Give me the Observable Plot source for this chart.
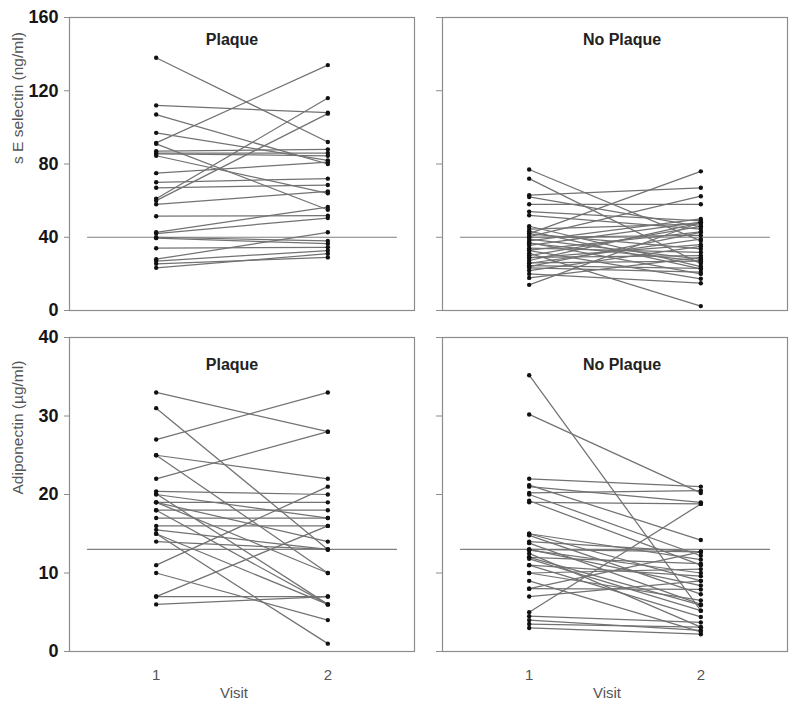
<!DOCTYPE html>
<html><head><meta charset="utf-8">
<script src="https://cdn.jsdelivr.net/npm/d3@7"></script>
<script src="https://cdn.jsdelivr.net/npm/@observablehq/plot@0.6"></script>
<style>
html,body{margin:0;padding:0;background:#fff;}
#wrap{position:relative;width:800px;height:712px;overflow:hidden;background:#fff;}
#wrap > svg{position:absolute;}
</style></head><body><div id="wrap"></div>
<script>
// ---- data ----
const visits = [1, 2];
const visitLabels = ["1", "2"];
const groups = ["Plaque", "No Plaque"];
const xTitle = "Visit";
const selectinTitle = "s E selectin (ng/ml)";
const adipoTitle = "Adiponectin (\u00b5g/ml)";
const selectinTicks = [0, 40, 80, 120, 160];
const adipoTicks = [0, 10, 20, 30, 40];
const selectinRef = 40;
const adipoRef = 13;
const refSpan = [0.6, 2.4];

const selectinPlaqueV1 = [138, 112, 107, 97, 91.5, 91, 87, 86, 85.5, 84.5, 75, 70, 67, 61, 60, 58, 51.5, 42.7, 42, 40, 39.5, 34, 28, 27, 23.3, 25.5];
const selectinPlaqueV2 = [92, 108, 80, 82, 134, 55, 88, 86, 84.5, 64, 81, 72, 68.5, 116, 107.5, 65, 51.8, 56.5, 50.5, 38, 36.5, 34.5, 42.7, 32.7, 31, 29];

const selectinNoV1 = [77, 72, 63, 62, 58, 54, 52, 46, 44.5, 43.3, 42, 41.8, 40.4, 40, 39, 38, 37, 36.7, 35.5, 34, 33, 32.7, 31.3, 30, 29, 28.7, 27.3, 26, 25.8, 24.5, 24, 23.3, 21.8, 20, 17.8, 14];
const selectinNoV2 = [38, 25.5, 67, 45.8, 58, 49, 44.5, 24, 47.3, 22.7, 76, 33.6, 62.4, 41, 28, 50, 20, 27, 48.2, 31.8, 43, 17.3, 2.4, 46, 30, 36, 48, 26.9, 39, 23, 42.7, 21, 35, 14.9, 29, 48.2];

const adipoPlaqueV1 = [33, 31, 27, 25, 25, 22, 20.4, 20.1, 20, 19, 19, 19, 18, 18, 17, 16, 15.5, 15, 14, 11, 10, 7, 7, 6, 15];
const adipoPlaqueV2 = [28, 13, 33, 22, 10, 28, 20, 6, 17, 14, 10, 19, 18, 6, 17, 16, 13, 6, 13, 21, 4, 16, 7, 7, 1];

const adipoNoV1 = [35.2, 30.2, 22, 21.2, 21, 20.2, 20, 19, 19.2, 15, 15, 14.8, 14, 13.8, 13, 13, 12.5, 12, 12, 11, 11, 10, 10, 9, 8, 8, 7, 5, 4.5, 4, 3.5, 3, 12.9, 11.8];
const adipoNoV2 = [5.2, 20.2, 21, 14.2, 19, 20.5, 12.2, 18.8, 11, 11.7, 9, 7.3, 12.7, 6, 12.7, 8.4, 3.1, 11.2, 5.9, 9.6, 4.4, 10.5, 6.5, 2.5, 12.7, 7.9, 9, 18.8, 3.7, 2.7, 3.1, 2.2, 10, 5.2];

// ---- drawing ----
const wrap = document.getElementById("wrap");
const sans = "'Liberation Sans', Arial, Helvetica, sans-serif";
const narrow = "'Liberation Sans Narrow', 'Arial Narrow', 'Liberation Sans', sans-serif";

function panel(o) {
  const links = o.v1.map((a, i) => ({a, b: o.v2[i]}));
  const pts = o.v1.map(v => ({visit: visits[0], value: v}))
    .concat(o.v2.map(v => ({visit: visits[1], value: v})));
  const ref = refSpan.map(x => ({x, y: o.ref}));
  const marks = [
    Plot.frame({stroke: "#8c8c8c", strokeWidth: 1.2}),
    Plot.line(ref, {x: "x", y: "y", stroke: "#808080", strokeWidth: 1.2}),
    Plot.link(links, {x1: d => visits[0], y1: "a", x2: d => visits[1], y2: "b", stroke: "#727272", strokeWidth: 1.25}),
    Plot.dot(pts, {x: "visit", y: "value", r: 2.2, fill: "#111", stroke: "none"}),
    Plot.text([o.title], {frameAnchor: "top", dx: o.titleDx, dy: o.titleDy, fontSize: 16, fontWeight: "bold", fill: "#222", fontFamily: sans}),
    o.yLabels
      ? Plot.axisY({ticks: o.ticks, tickSize: 5, tickPadding: 6, stroke: "#8c8c8c", fill: "#161616", fontSize: 18, fontWeight: "bold", fontFamily: narrow, label: null})
      : Plot.axisY({ticks: o.ticks, tickSize: 6, stroke: "#8c8c8c", fill: "none", label: null})
  ];
  if (o.yTitle) marks.push(Plot.text([o.yTitle], {frameAnchor: "left", dx: -51, rotate: -90, fontSize: 15.5, fill: "#555", fontFamily: sans}));
  if (o.xAxis) {
    marks.push(Plot.axisX({ticks: visits, tickFormat: d => visitLabels[visits.indexOf(d)], tickSize: 0, tickPadding: 18, fontSize: 15, fill: "#555", fontFamily: sans, label: null}));
    marks.push(Plot.text([xTitle], {frameAnchor: "bottom", dy: 46, dx: -8, fontSize: 15, fill: "#555", fontFamily: sans}));
  }
  const svg = Plot.plot({
    width: o.width, height: o.height,
    marginLeft: o.mL, marginRight: o.mR, marginTop: o.mT, marginBottom: o.mB,
    x: {domain: [0.495, 2.505], axis: null},
    y: {domain: o.domain, axis: null, label: null},
    style: {background: "transparent", overflow: "visible", fontFamily: sans},
    marks
  });
  svg.style.left = o.left + "px";
  svg.style.top = o.top + "px";
  wrap.appendChild(svg);
}

panel({v1: selectinPlaqueV1, v2: selectinPlaqueV2, domain: [0, 160], ticks: selectinTicks, ref: selectinRef, title: groups[0],
  left: 0, top: 0, width: 420, height: 330, mL: 69, mR: 6, mT: 17, mB: 20, yLabels: true, yTitle: selectinTitle, xAxis: false, titleDx: -10, titleDy: 16.5});
panel({v1: selectinNoV1, v2: selectinNoV2, domain: [0, 160], ticks: selectinTicks, ref: selectinRef, title: groups[1],
  left: 420, top: 0, width: 380, height: 330, mL: 22, mR: 13, mT: 17, mB: 20, yLabels: false, xAxis: false, titleDx: 7, titleDy: 16.5});
panel({v1: adipoPlaqueV1, v2: adipoPlaqueV2, domain: [0, 40], ticks: adipoTicks, ref: adipoRef, title: groups[0],
  left: 0, top: 330, width: 420, height: 382, mL: 69, mR: 6, mT: 7, mB: 61, yLabels: true, yTitle: adipoTitle, xAxis: true, titleDx: -10, titleDy: 21});
panel({v1: adipoNoV1, v2: adipoNoV2, domain: [0, 40], ticks: adipoTicks, ref: adipoRef, title: groups[1],
  left: 420, top: 330, width: 380, height: 382, mL: 22, mR: 13, mT: 7, mB: 61, yLabels: false, xAxis: true, titleDx: 7, titleDy: 21});
</script>
</body></html>
